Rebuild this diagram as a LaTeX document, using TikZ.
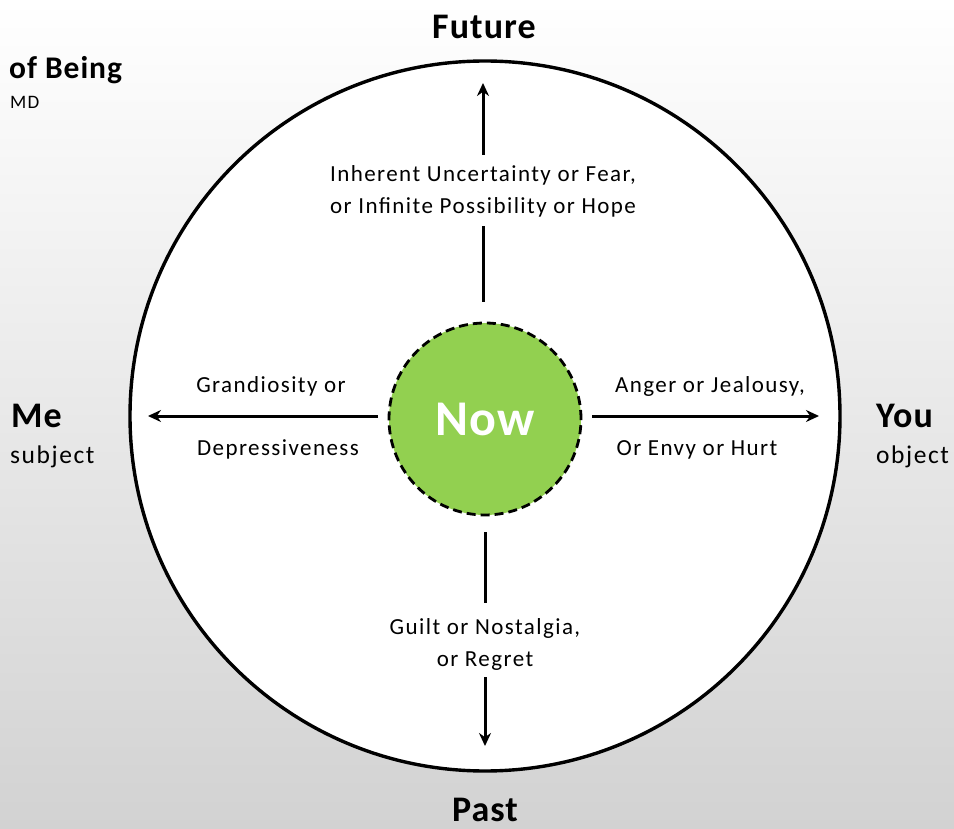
\documentclass[tikz,border=0pt]{standalone}
\usepackage{fontspec}
\setmainfont{Carlito}
\newfontfamily\lblfont[LetterSpace=6.2]{Carlito}
\newfontfamily\bigfont[LetterSpace=3]{Carlito}
\usetikzlibrary{arrows.meta}
\definecolor{nowgreen}{RGB}{146,208,80}
\definecolor{bggray}{RGB}{210,210,210}
\begin{document}
\begin{tikzpicture}[x=1pt,y=-1pt,
  ln/.style={line width=3pt},
  arr/.style={ln,-{Stealth[length=13pt,width=12pt]}},
  lbl/.style={align=center,inner sep=0pt,font=\lblfont\fontsize{23}{32}\selectfont},
  big/.style={inner sep=0pt,font=\bigfont\fontsize{36}{36}\selectfont\bfseries},
  sm/.style={inner sep=0pt,font=\lblfont\fontsize{25.5}{26}\selectfont}]
\shade[top color=white,bottom color=bggray] (0,0) rectangle (954,829);
\useasboundingbox (0,0) rectangle (954,829);
\fill[white] (485,416) circle[radius=355];
\draw[line width=3.4pt] (485,416) circle[radius=355];
\node[circle,fill=nowgreen,draw=black,line width=2.8pt,dash pattern=on 9pt off 5pt,minimum size=192pt,inner sep=0pt,font=\bigfont\fontsize{50}{50}\selectfont\bfseries,text=white] (now) at (485,419) {Now};
% labels
\node[lbl] (ut) at (483,191) {Inherent Uncertainty or Fear,\\or Infinite Possibility or Hope};
\node[lbl] (dt) at (485,644) {Guilt or Nostalgia,\\or Regret};
\node[lbl] (lt1) at (271,386) {Grandiosity or};
\node[lbl] (lt2) at (278,449) {Depressiveness};
\node[lbl] (rt1) at (710,386) {Anger or Jealousy,};
\node[lbl] (rt2) at (697,450) {Or Envy or Hurt};
% coordinates
\coordinate (ua) at (483,302);
\coordinate (ub) at (483,226);
\coordinate (uc) at (483,155);
\coordinate (utip) at (483,83);
\coordinate (da) at (485,532);
\coordinate (db) at (485,603);
\coordinate (dc) at (485,677);
\coordinate (dtip) at (485,746);
\coordinate (la) at (378,416);
\coordinate (ltip) at (148,416);
\coordinate (ra) at (592,416);
\coordinate (rtip) at (819,416);
\draw[ln] (ua) -- (ub);
\draw[arr] (uc) -- (utip);
\draw[ln] (da) -- (db);
\draw[arr] (dc) -- (dtip);
\draw[arr] (la) -- (ltip);
\draw[arr] (ra) -- (rtip);
% outer labels
\node[big] (fut) at (484,27) {Future};
\node[big] (past) at (485,810) {Past};
\node[big,anchor=west] (me) at (11,416) {Me};
\node[sm,anchor=west] (subj) at (10,457) {subject};
\node[big,anchor=west] (you) at (876,416) {You};
\node[sm,anchor=west] (obj) at (876,457) {object};
\node[anchor=west,inner sep=0pt,font=\bigfont\fontsize{31.5}{32}\selectfont\bfseries] (being) at (9,70) {of Being};
\node[anchor=west,inner sep=0pt,font=\lblfont\fontsize{19}{19}\selectfont] (md) at (10,102) {MD};
\end{tikzpicture}
\end{document}
